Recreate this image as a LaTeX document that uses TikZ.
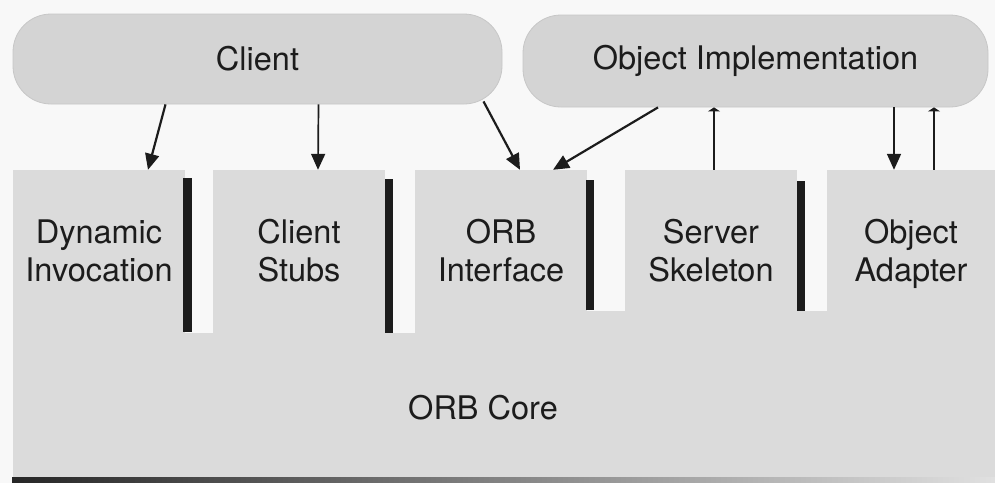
\documentclass[tikz,border=0pt]{standalone}
\usepackage{fontspec}
\setmainfont{TeX Gyre Heros}
\usetikzlibrary{arrows.meta}
\definecolor{bgcol}{HTML}{F8F8F8}
\definecolor{pillcol}{HTML}{D4D4D4}
\definecolor{boxcol}{HTML}{DBDBDB}
\definecolor{inkcol}{HTML}{1C1C1C}
\newcommand{\lbl}{\fontsize{32.5}{38}\selectfont}
\newcommand{\highstrut}{\rule{0pt}{32.6pt}}
\tikzset{
  pill/.style={fill=pillcol, draw=black!22, line width=0.8pt, rounded corners=38pt,
    font=\lbl, text=inkcol, inner sep=0pt},
  boxnode/.style={fill=boxcol, draw=none, minimum width=172pt, minimum height=163pt,
    align=center, font=\lbl, text=inkcol, inner sep=0pt},
  sepbar/.style={fill=inkcol},
  bigarr/.style={draw=inkcol, line width=2.2pt, -{Triangle[length=16pt,width=14pt]}},
  thinarr/.style={draw=inkcol, line width=1.7pt, -{Triangle[length=16pt,width=14pt]}},
  backarr/.style={draw=inkcol, line width=1.7pt, -{Triangle[length=4pt,width=12pt]}},
}
\begin{document}
\begin{tikzpicture}[x=1pt,y=-1pt]
\useasboundingbox (0,0) rectangle (995,483);
\fill[bgcol] (0,0) rectangle (995,483);

% ORB core region
\fill[boxcol] (13,478) -- (13,333) -- (587,333) -- (587,311) -- (995,311) -- (995,478) -- cycle;
\node[font=\lbl, text=inkcol] (core) at (483,408) {ORB Core};

% top pills
\node[pill, minimum width=489pt, minimum height=90pt] (client) at (257.5,59) {Client};
\node[pill, minimum width=465pt, minimum height=92pt] (oimpl) at (755.5,61) {Object Implementation};

% component boxes
\node[boxnode] (di) at (99,251.5) {\highstrut Dynamic\\Invocation\strut};
\node[boxnode] (cs) at (299,251.5) {\highstrut Client\\Stubs\strut};
\node[boxnode] (oi) at (501,251.5) {\highstrut ORB\\Interface\strut};
\node[boxnode] (ss) at (711,251.5) {\highstrut Server\\Skeleton\strut};
\node[boxnode, minimum width=168pt] (oa) at (911,251.5) {\highstrut Object\\Adapter\strut};

% separator bars
\fill[sepbar] (183,178) rectangle (192,332);
\fill[sepbar] (385,179) rectangle (393,333);
\fill[sepbar] (586,180) rectangle (594,310);
\fill[sepbar] (797,181) rectangle (805,311);

% bottom rule
\shade[left color=black!85, right color=black!12] (12,477) rectangle (995,482);

% connectors
\draw[bigarr]  ([xshift=-92pt]client.south) -- ([xshift=49pt]di.north);
\draw[thinarr] ([xshift=61pt]client.south) -- ([xshift=19pt]cs.north);
\draw[bigarr]  ([xshift=226pt,yshift=3pt]client.south) -- ([xshift=19pt]oi.north);
\draw[bigarr]  ([xshift=-97.5pt]oimpl.south) -- ([xshift=52pt]oi.north);
\draw[backarr] ([xshift=3pt]ss.north) -- ([xshift=-41.5pt]oimpl.south);
\draw[thinarr] ([xshift=138.5pt]oimpl.south) -- ([xshift=-17pt]oa.north);
\draw[backarr] ([xshift=23pt]oa.north) -- ([xshift=178.5pt]oimpl.south);
\end{tikzpicture}
\end{document}
